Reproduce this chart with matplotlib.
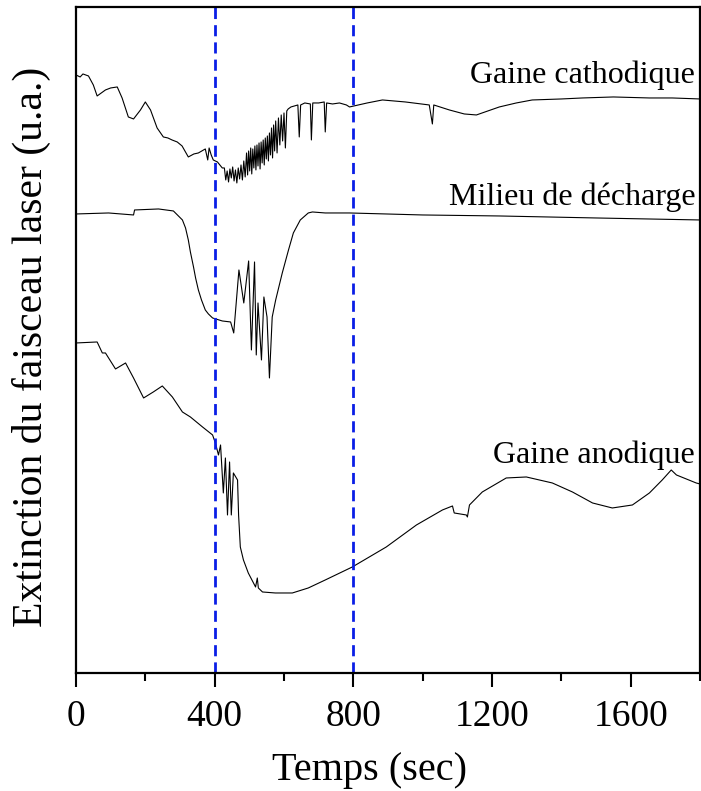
import matplotlib
matplotlib.use('Agg')
from matplotlib import pyplot as plt
from matplotlib.ticker import MultipleLocator

plt.rcParams['font.family'] = ['Liberation Serif', 'DejaVu Serif']

# Gaine cathodique (top trace)
t_cath = [0, 12, 20, 36, 50, 61, 85, 100, 119, 133, 151, 166, 186, 200, 215, 234, 252, 265, 277, 292, 306, 324, 340, 353, 373,
          380, 384, 390, 396, 408, 422,
          428, 432, 436, 440, 444, 448, 452, 456, 460, 464, 468, 472, 476, 480, 484, 488,
          492, 495, 498, 501, 504, 507, 510, 513, 516, 519, 522, 525, 528, 531, 534, 537, 540, 543,
          546, 549, 552, 555, 558, 561, 564, 567, 570, 573, 576, 580, 584, 588, 592, 596, 600, 604,
          608, 612, 620, 640, 644, 648, 660, 676, 679, 683, 700, 716, 719, 723, 740, 760, 780,
          789, 840, 884, 950, 1019, 1028, 1032, 1077, 1120, 1155, 1221, 1270, 1316, 1400, 1461, 1550, 1654, 1720, 1800]
v_cath = [5.98, 5.96, 5.99, 5.97, 5.88, 5.77, 5.83, 5.85, 5.86, 5.75, 5.56, 5.54, 5.63, 5.71, 5.63, 5.45, 5.36, 5.35, 5.33, 5.31, 5.27, 5.16, 5.19, 5.20, 5.24,
          5.13, 5.25, 5.18, 5.13, 5.11, 5.05,
          5.05, 4.93, 5.02, 4.91, 5.04, 4.95, 5.06, 4.92, 5.03, 4.90, 5.05, 4.94, 5.08, 4.93, 5.12, 4.96,
          5.20, 4.98, 5.22, 5.02, 5.25, 4.99, 5.24, 5.05, 5.27, 5.03, 5.28, 5.07, 5.30, 5.04, 5.31, 5.10, 5.33, 5.08,
          5.35, 5.14, 5.37, 5.12, 5.40, 5.18, 5.45, 5.15, 5.48, 5.22, 5.52, 5.20, 5.55, 5.28, 5.58, 5.32, 5.60, 5.25,
          5.62, 5.64, 5.66, 5.68, 5.36, 5.68, 5.70, 5.69, 5.33, 5.70, 5.70, 5.71, 5.41, 5.70, 5.69, 5.70, 5.68,
          5.66, 5.70, 5.73, 5.71, 5.68, 5.49, 5.68, 5.63, 5.59, 5.58, 5.66, 5.70, 5.73, 5.74, 5.75, 5.76, 5.75, 5.75, 5.74]

# Milieu de décharge (middle trace)
t_mil = [0, 94, 166, 169, 238, 281, 307, 316, 324, 330, 339, 345, 353, 362, 373, 382, 394, 422, 446, 455, 470, 484, 498, 506, 515,
         520, 525, 535, 542, 551, 558, 566, 576, 595, 613, 627, 647, 670, 682, 719, 789, 1000, 1221, 1500, 1800]
v_mil = [4.59, 4.60, 4.58, 4.63, 4.64, 4.62, 4.53, 4.45, 4.33, 4.21, 4.06, 3.95, 3.83, 3.73, 3.63, 3.59, 3.55, 3.52, 3.51, 3.40, 4.03, 3.70, 4.12, 3.23, 4.11,
         3.18, 3.70, 3.13, 3.76, 3.56, 2.95, 3.56, 3.73, 4.00, 4.23, 4.40, 4.53, 4.60, 4.61, 4.60, 4.60, 4.58, 4.57, 4.55, 4.53]

# Gaine anodique (bottom trace)
t_ano = [0, 61, 76, 85, 114, 143, 166, 195, 223, 249, 278, 307, 330, 365, 394, 402, 411, 417, 425, 431,
         437, 443, 448, 454, 466, 469, 474, 483, 497, 518, 523, 526, 538, 575, 624, 670, 719, 797, 895,
         982, 1057, 1086, 1091, 1126, 1129, 1135, 1172, 1241, 1299, 1374, 1432, 1490, 1547, 1605, 1654,
         1691, 1717, 1732, 1789, 1800]
v_ano = [3.30, 3.31, 3.20, 3.20, 3.04, 3.10, 2.95, 2.75, 2.81, 2.87, 2.76, 2.61, 2.56, 2.46, 2.38, 2.30, 2.18, 2.28, 1.80, 2.15,
         1.58, 2.11, 1.58, 2.00, 1.93, 1.58, 1.26, 1.13, 1.00, 0.86, 0.95, 0.85, 0.81, 0.80, 0.80, 0.85, 0.93, 1.06, 1.26,
         1.48, 1.63, 1.67, 1.60, 1.58, 1.56, 1.68, 1.81, 1.95, 1.96, 1.90, 1.81, 1.70, 1.65, 1.68, 1.80,
         1.93, 2.03, 1.98, 1.90, 1.89]

labels = ['Gaine cathodique', 'Milieu de décharge', 'Gaine anodique']
label_y = [5.90, 4.68, 2.10]
markers_t = [400, 800]
xticks = [0, 400, 800, 1200, 1600]

fig = plt.figure(figsize=(7.01, 7.91), dpi=100)
ax = fig.add_axes([0.1084, 0.1492, 0.8902, 0.842])

ax.plot(t_cath, v_cath, color='black', lw=0.8)
ax.plot(t_mil, v_mil, color='black', lw=0.8)
ax.plot(t_ano, v_ano, color='black', lw=0.8)

for tm in markers_t:
    ax.axvline(tm, color='#0a1ee6', lw=2, linestyle=(0, (4, 2.2)))

for lab, ly in zip(labels, label_y):
    ax.text(1786, ly, lab, ha='right', va='baseline', fontsize=23)

ax.set_xlim(0, 1800)
ax.set_ylim(0, 6.66)
ax.set_xticks(xticks)
ax.xaxis.set_minor_locator(MultipleLocator(200))
ax.set_yticks([])
ax.tick_params(axis='x', which='major', direction='out', length=10, width=1.5, labelsize=27, pad=9)
ax.tick_params(axis='x', which='minor', direction='out', length=5.5, width=1.5)
for sp in ax.spines.values():
    sp.set_linewidth(1.6)

ax.set_xlabel('Temps (sec)', fontsize=29, va='top')
ax.xaxis.set_label_coords(0.47, -0.118)
ax.set_ylabel('Extinction du faisceau laser (u.a.)', fontsize=30, va='center')
ax.yaxis.set_label_coords(-0.072, 0.49)

plt.savefig('out.png', dpi=100)
plt.close()
